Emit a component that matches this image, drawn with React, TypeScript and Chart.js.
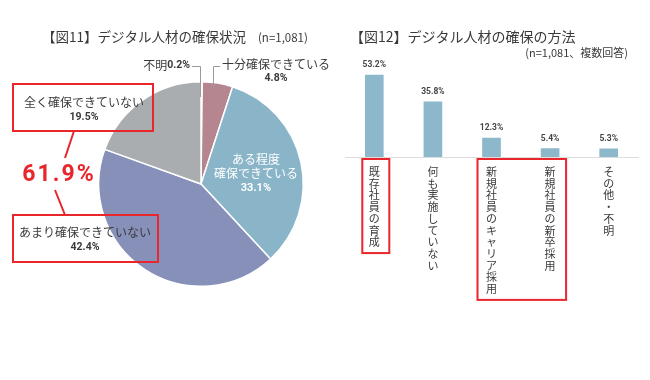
import React, { useEffect, useRef } from 'react';
import { Chart, registerables } from 'chart.js';

Chart.register(...registerables);

// ---- data ----
const pieLabels = ['不明', '十分確保できている', 'ある程度確保できている', 'あまり確保できていない', '全く確保できていない'];
const pieValues = [0.2, 4.8, 33.1, 42.4, 19.5];
const combinedShare = 61.9;

const barLabels = ['既存社員の育成', '何も実施していない', '新規社員のキャリア採用', '新規社員の新卒採用', 'その他・不明'];
const barValues = [53.2, 35.8, 12.3, 5.4, 5.3];

// ---- styles ----
const pieColors = ['#f2f2f2', '#b5868f', '#8ab5c9', '#8690b9', '#a9adb0'];
const barColor = '#8db7ca';
const FONT_JP = "'Noto Sans CJK JP', 'Noto Sans', sans-serif";
const FONT_NUM = "Roboto, 'DejaVu Sans', sans-serif";
const RED = '#e8262b';
const TXT = '#3a3a3a';
const fmt = (v: number) => v.toFixed(1) + '%';

const pieAnnotations = {
  id: 'pieAnnotations',
  afterDraw(chart: any) {
    const ctx = chart.ctx as CanvasRenderingContext2D;
    ctx.save();
    ctx.textBaseline = 'middle';
    // title
    ctx.fillStyle = TXT;
    ctx.textAlign = 'left';
    ctx.font = `13.5px ${FONT_JP}`;
    const title = '【図11】デジタル人材の確保状況';
    ctx.fillText(title, 42, 37);
    const tw = ctx.measureText(title).width;
    ctx.font = `11.5px ${FONT_JP}`;
    ctx.fillText('(n=1,081)', 42 + tw + 12, 38);

    // 不明 label
    ctx.textAlign = 'right';
    ctx.font = `bold 10.5px ${FONT_NUM}`;
    const unk = fmt(pieValues[0]);
    ctx.fillText(unk, 190, 65);
    const uw = ctx.measureText(unk).width;
    ctx.font = `12px ${FONT_JP}`;
    ctx.fillText(pieLabels[0], 190 - uw, 65);

    // 十分 label
    ctx.textAlign = 'left';
    ctx.fillText(pieLabels[1], 222, 64);
    ctx.textAlign = 'center';
    ctx.font = `bold 10.5px ${FONT_NUM}`;
    ctx.fillText(fmt(pieValues[1]), 276, 78);

    // leader lines
    ctx.strokeStyle = '#9a9a9a';
    ctx.lineWidth = 1;
    ctx.beginPath();
    ctx.moveTo(192, 66.5); ctx.lineTo(200.5, 66.5); ctx.lineTo(200.5, 97);
    ctx.moveTo(220, 66.5); ctx.lineTo(213.5, 66.5); ctx.lineTo(213.5, 88);
    ctx.stroke();

    // inside label for slice 2
    const meta = chart.getDatasetMeta(0);
    const arc = meta.data[2] as any;
    const mid = (arc.startAngle + arc.endAngle) / 2;
    const r = arc.outerRadius * 0.55;
    const cx = arc.x + Math.cos(mid) * r;
    const cy = arc.y + Math.sin(mid) * r + 2;
    ctx.fillStyle = '#ffffff';
    ctx.font = `12px ${FONT_JP}`;
    ctx.fillText('ある程度', cx, cy - 14);
    ctx.fillText('確保できている', cx, cy);
    ctx.font = `bold 11px ${FONT_NUM}`;
    ctx.fillText(fmt(pieValues[2]), cx, cy + 14);

    // red boxes
    ctx.strokeStyle = RED;
    ctx.lineWidth = 2;
    ctx.strokeRect(13, 84, 140, 47);
    ctx.strokeRect(13, 215, 145, 47);
    ctx.beginPath();
    ctx.moveTo(74, 131); ctx.lineTo(65, 158);
    ctx.moveTo(55, 190); ctx.lineTo(65, 215);
    ctx.stroke();

    ctx.fillStyle = TXT;
    ctx.font = `12px ${FONT_JP}`;
    ctx.fillText(pieLabels[4], 84, 102.5);
    ctx.fillText(pieLabels[3], 85, 232);
    ctx.font = `bold 10.5px ${FONT_NUM}`;
    ctx.fillText(fmt(pieValues[4]), 84, 117);
    ctx.fillText(fmt(pieValues[3]), 85, 247);

    ctx.fillStyle = RED;
    ctx.font = `bold 23px ${FONT_NUM}`;
    (ctx as any).letterSpacing = '2px';
    ctx.fillText(fmt(combinedShare), 59, 175);
    (ctx as any).letterSpacing = '0px';
    ctx.restore();
  },
};

const BAR_TICK_PAD = 9;
const BAR_FONT = 11;
const BAR_LH = 1.064;

const barAnnotations = {
  id: 'barAnnotations',
  afterDraw(chart: any) {
    const ctx = chart.ctx as CanvasRenderingContext2D;
    ctx.save();
    ctx.textBaseline = 'middle';
    ctx.fillStyle = TXT;
    ctx.textAlign = 'left';
    ctx.font = `14px ${FONT_JP}`;
    ctx.fillText('【図12】デジタル人材の確保の方法', 10, 37);
    ctx.textAlign = 'right';
    ctx.font = `11px ${FONT_JP}`;
    ctx.fillText('(n=1,081、複数回答)', 288, 53);

    // value labels
    const meta = chart.getDatasetMeta(0);
    ctx.textAlign = 'center';
    ctx.fillStyle = '#444';
    ctx.font = `bold 8.5px ${FONT_NUM}`;
    meta.data.forEach((bar: any, i: number) => {
      ctx.fillText(fmt(barValues[i]), bar.x, bar.y - 10);
    });

    // red boxes around labels
    const xs = chart.scales.x;
    const lh = BAR_FONT * BAR_LH;
    const first = xs.top + BAR_TICK_PAD + lh / 2;
    const bottomOf = (n: number) => first + (n - 1) * lh + 11;
    ctx.strokeStyle = RED;
    ctx.lineWidth = 2;
    const x0 = xs.getPixelForTick(0);
    const x2 = xs.getPixelForTick(2);
    const x3 = xs.getPixelForTick(3);
    const top = xs.top + 2;
    ctx.strokeRect(x0 - 12, top, 27, bottomOf(barLabels[0].length) - top);
    const n2 = Math.max(barLabels[2].length, barLabels[3].length);
    ctx.strokeRect(x2 - 14, top, x3 + 16 - (x2 - 14), bottomOf(n2) - top);
    ctx.restore();
  },
};

export default function App() {
  const pieRef = useRef<HTMLCanvasElement>(null);
  const barRef = useRef<HTMLCanvasElement>(null);

  useEffect(() => {
    const pie = new Chart(pieRef.current!, {
      type: 'pie',
      data: {
        labels: pieLabels,
        datasets: [{
          data: pieValues,
          backgroundColor: pieColors,
          borderColor: '#ffffff',
          borderWidth: 1.5,
        }],
      },
      options: {
        responsive: false,
        animation: false,
        devicePixelRatio: 1,
        layout: { padding: { left: 98, right: 36, top: 81, bottom: 93 } },
        plugins: { legend: { display: false }, tooltip: { enabled: false } },
      },
      plugins: [pieAnnotations],
    });

    const bar = new Chart(barRef.current!, {
      type: 'bar',
      data: {
        labels: barLabels,
        datasets: [{
          data: barValues,
          backgroundColor: barColor,
          barThickness: 18,
        }],
      },
      options: {
        responsive: false,
        animation: false,
        devicePixelRatio: 1,
        layout: { padding: { left: 5, right: 12, top: 64.5, bottom: 0 } },
        plugins: { legend: { display: false }, tooltip: { enabled: false } },
        scales: {
          y: { display: false, min: 0, max: 60 },
          x: {
            grid: { display: false, drawTicks: false },
            border: { display: true, color: '#dddddd', width: 1 },
            ticks: {
              padding: BAR_TICK_PAD,
              autoSkip: false,
              maxRotation: 0,
              color: TXT,
              font: { family: FONT_JP, size: BAR_FONT, lineHeight: BAR_LH },
              callback: (_v: any, i: number) => barLabels[i].split(''),
            },
            afterFit: (scale: any) => { scale.height = 380 - 157; },
          },
        },
      },
      plugins: [barAnnotations],
    });

    return () => { pie.destroy(); bar.destroy(); };
  }, []);

  return (
    <div style={{ position: 'fixed', left: 0, top: 0, width: 650, height: 380, background: '#fff' }}>
      <canvas ref={pieRef} width={340} height={380} style={{ position: 'absolute', left: 0, top: 0, width: 340, height: 380 }} />
      <canvas ref={barRef} width={310} height={380} style={{ position: 'absolute', left: 340, top: 0, width: 310, height: 380 }} />
    </div>
  );
}
